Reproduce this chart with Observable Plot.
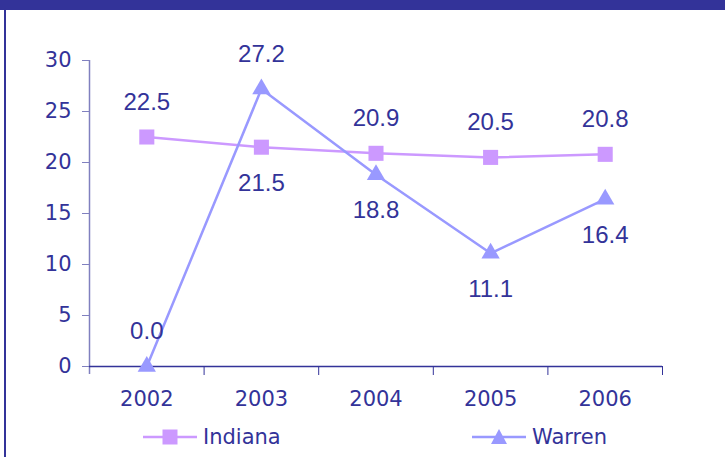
<!DOCTYPE html>
<html>
<head>
<meta charset="utf-8">
<script src="https://cdn.jsdelivr.net/npm/d3@7"></script>
<script src="https://cdn.jsdelivr.net/npm/@observablehq/plot@0.6"></script>
<style>
  html, body { margin: 0; padding: 0; background: #fff; }
  #page { position: relative; width: 725px; height: 457px; overflow: hidden; background: #fff; }
  #band { position: absolute; left: 0; top: 0; width: 725px; height: 10px; background: #333399; }
  #leftline { position: absolute; left: 4px; top: 10px; width: 2px; height: 447px; background: #333399; }
  #chart { position: absolute; left: 0; top: 0; }
  .leg { position: absolute; top: 424px; height: 26px; display: flex; align-items: center;
         font-family: "DejaVu Sans", Verdana, sans-serif; font-size: 21px; color: #333399; }
  .leg svg { display: block; margin-right: 6px; }
</style>
</head>
<body>
<div id="page">
  <div id="chart"></div>
  <div id="band"></div>
  <div id="leftline"></div>
  <div id="legend"></div>
</div>
<script>
const years = [2002, 2003, 2004, 2005, 2006];
const indiana = [22.5, 21.5, 20.9, 20.5, 20.8];
const warren = [0.0, 27.2, 18.8, 11.1, 16.4];
const yTicks = [0, 5, 10, 15, 20, 25, 30];
const seriesNames = ["Indiana", "Warren"];
const colors = {Indiana: "#CC99FF", Warren: "#9999FF"};
const textColor = "#333399";

const rows = [];
years.forEach((yr, i) => {
  rows.push({series: "Indiana", year: yr, value: indiana[i], other: warren[i]});
  rows.push({series: "Warren", year: yr, value: warren[i], other: indiana[i]});
});
// label goes below its point when the other series is higher there (and there is room)
const below = d => d.value < d.other && d.value > 0;

const boundaries = years.map(y => y + 0.5);

const chart = Plot.plot({
  width: 725,
  height: 420,
  marginLeft: 89,
  marginRight: 63,
  marginTop: 60,
  marginBottom: 54,
  style: {fontFamily: "DejaVu Sans, Verdana, sans-serif", fontSize: "21px", color: textColor, background: "transparent"},
  x: {type: "linear", domain: [years[0] - 0.5, years[years.length - 1] + 0.5]},
  y: {domain: [0, 30]},
  marks: [
    Plot.ruleX([years[0] - 0.5], {stroke: "#8080bf", strokeWidth: 1.5, insetBottom: -8}),
    Plot.axisY({ticks: yTicks, tickSize: 7, tickPadding: 11, stroke: "#8080bf", fill: textColor, label: null, fontSize: 21}),
    Plot.axisX({ticks: boundaries, tickSize: 9, tickFormat: () => "", stroke: textColor, label: null}),
    Plot.axisX({ticks: years, tickSize: 0, tickPadding: 25, tickFormat: d => String(d), fill: textColor, label: null, fontSize: 21}),
    Plot.ruleY([0], {stroke: textColor, strokeWidth: 1.5}),
    Plot.line(rows.filter(d => d.series === "Indiana"), {x: "year", y: "value", stroke: colors.Indiana, strokeWidth: 2.5}),
    Plot.line(rows.filter(d => d.series === "Warren"), {x: "year", y: "value", stroke: colors.Warren, strokeWidth: 2.5}),
    Plot.dot(rows.filter(d => d.series === "Indiana"), {x: "year", y: "value", symbol: "square", r: 8.5, fill: colors.Indiana, stroke: "none"}),
    Plot.dot(rows.filter(d => d.series === "Warren"), {x: "year", y: "value", symbol: "triangle", r: 6.8, fill: colors.Warren, stroke: "none"}),
    Plot.text(rows.filter(d => !below(d)), {x: "year", y: "value", text: d => d.value.toFixed(1), dy: -35, fill: textColor,
      fontFamily: "Liberation Sans, Arial, sans-serif", fontSize: 24}),
    Plot.text(rows.filter(d => below(d)), {x: "year", y: "value", text: d => d.value.toFixed(1), dy: 36, fill: textColor,
      fontFamily: "Liberation Sans, Arial, sans-serif", fontSize: 24})
  ]
});
document.getElementById("chart").appendChild(chart);

// legend
const legend = document.getElementById("legend");
const legendLeft = {Indiana: 143, Warren: 472};
seriesNames.forEach(name => {
  const div = document.createElement("div");
  div.className = "leg";
  div.style.left = legendLeft[name] + "px";
  const c = colors[name];
  const shape = name === "Indiana"
    ? `<rect x="19.5" y="5.5" width="15" height="15" fill="${c}"/>`
    : `<path d="M27,5 L35,20 L19,20 Z" fill="${c}"/>`;
  div.innerHTML = `<svg width="54" height="26"><line x1="0" x2="54" y1="13" y2="13" stroke="${c}" stroke-width="2.5"/>${shape}</svg><span>${name}</span>`;
  legend.appendChild(div);
});
</script>
</body>
</html>
